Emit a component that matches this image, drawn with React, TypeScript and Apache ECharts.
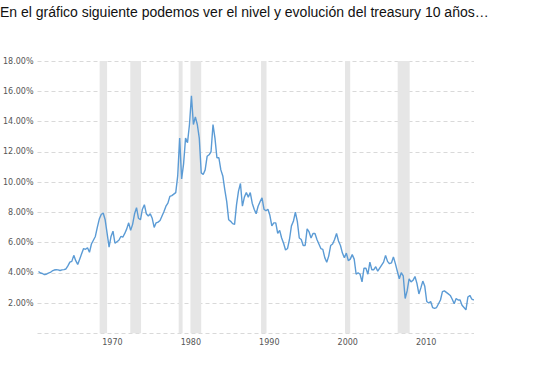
import React, { useEffect, useRef } from "react";
import * as echarts from "echarts";

const titleText =
  "En el gráfico siguiente podemos ver el nivel y evolución del treasury 10 años…";

const xTickYears = [1970, 1980, 1990, 2000, 2010];

const yieldYears = [
  1962, 1963, 1964, 1965, 1966, 1967, 1968, 1969, 1970, 1971, 1972, 1973, 1974, 1975,
  1976, 1977, 1978, 1979, 1980, 1981, 1982, 1983, 1984, 1985, 1986, 1987, 1988, 1989,
  1990, 1991, 1992, 1993, 1994, 1995, 1996, 1997, 1998, 1999, 2000, 2001, 2002, 2003,
  2004, 2005, 2006, 2007, 2008, 2009, 2010, 2011, 2012, 2013, 2014, 2015, 2016, 2017,
];

// quarterly 10-year treasury yields (%)
const quarterlyYields: number[][] = [
  [4.08, 3.98, 3.95, 3.88],
  [3.9, 3.98, 4.02, 4.12],
  [4.18, 4.2, 4.19, 4.15],
  [4.19, 4.21, 4.25, 4.45],
  [4.7, 4.75, 5.15, 4.8],
  [4.55, 4.9, 5.25, 5.6],
  [5.55, 5.65, 5.35, 5.9],
  [6.15, 6.4, 7.0, 7.55],
  [7.85, 7.95, 7.5, 6.6],
  [5.7, 6.4, 6.75, 5.95],
  [6.05, 6.15, 6.4, 6.35],
  [6.6, 6.9, 7.3, 6.8],
  [7.2, 7.9, 8.3, 7.6],
  [7.5, 8.2, 8.5, 7.9],
  [7.75, 7.9, 7.6, 7.0],
  [7.3, 7.35, 7.45, 7.75],
  [8.05, 8.4, 8.6, 9.05],
  [9.1, 9.2, 9.3, 10.4],
  [12.9, 10.2, 11.2, 12.9],
  [12.6, 13.8, 15.7, 13.8],
  [14.3, 13.8, 12.9, 10.6],
  [10.5, 10.8, 11.7, 11.8],
  [12.0, 13.8, 12.9, 11.6],
  [11.6, 10.8, 10.4, 9.5],
  [8.7, 7.5, 7.4, 7.25],
  [7.2, 8.5, 9.4, 9.9],
  [8.4, 9.0, 9.3, 9.0],
  [9.3, 8.6, 8.2, 7.9],
  [8.4, 8.7, 8.95, 8.2],
  [8.1, 8.2, 7.8, 7.1],
  [7.3, 7.3, 6.6, 6.8],
  [6.3, 5.95, 5.5, 5.6],
  [6.2, 7.1, 7.4, 8.0],
  [7.4, 6.3, 6.2, 5.8],
  [5.8, 6.9, 6.7, 6.3],
  [6.6, 6.6, 6.2, 5.9],
  [5.6, 5.55, 5.0, 4.7],
  [5.1, 5.8, 5.9, 6.2],
  [6.6, 6.1, 5.8, 5.3],
  [5.0, 5.3, 4.8, 4.9],
  [5.2, 4.9, 3.9, 4.0],
  [3.9, 3.4, 4.3, 4.3],
  [3.9, 4.7, 4.2, 4.2],
  [4.4, 4.1, 4.3, 4.5],
  [4.7, 5.15, 4.75, 4.6],
  [4.65, 5.05, 4.6, 4.1],
  [3.6, 4.0, 3.8, 2.3],
  [2.8, 3.6, 3.4, 3.5],
  [3.75, 3.3, 2.6, 3.0],
  [3.45, 3.1, 2.1, 2.0],
  [2.1, 1.7, 1.65, 1.7],
  [1.95, 2.2, 2.75, 2.8],
  [2.7, 2.6, 2.5, 2.25],
  [1.95, 2.3, 2.2, 2.2],
  [1.85, 1.7, 1.55, 2.4],
  [2.5, 2.25, 2.2],
];

// US recessions (start, end) in fractional years
const recessions: [number, number][] = [
  [1969.92, 1970.87],
  [1973.83, 1975.2],
  [1980.0, 1980.5],
  [1981.5, 1982.87],
  [1990.5, 1991.2],
  [2001.2, 2001.87],
  [2007.92, 2009.45],
];

export default function App() {
  const ref = useRef<HTMLDivElement>(null);

  useEffect(() => {
    if (!ref.current) return;
    const chart = echarts.init(ref.current, null, { renderer: "svg" });

    const data: [number, number][] = [];
    yieldYears.forEach((yr, i) => {
      quarterlyYields[i].forEach((v, q) => {
        data.push([yr + q * 0.25 + 0.125, v]);
      });
    });

    const labelStyle = {
      fontFamily: "DejaVu Sans",
      fontSize: 8,
      color: "#555",
    };

    chart.setOption({
      animation: false,
      grid: { left: 36, right: 61, top: 61, bottom: 51.75 },
      xAxis: {
        type: "value",
        min: 1962,
        max: 2017.65,
        axisLine: { show: false },
        axisTick: { show: false },
        splitLine: { show: false },
        axisLabel: {
          ...labelStyle,
          customValues: xTickYears,
          align: "left",
          padding: [0, 0, 0, 2],
          margin: 5,
          formatter: (v: number) => String(Math.round(v)),
        },
      },
      yAxis: {
        type: "value",
        min: 0,
        max: 18,
        interval: 2,
        axisLine: { show: false },
        axisTick: { show: false },
        splitLine: {
          show: true,
          lineStyle: { type: [4, 3], color: "#d9d9d9", width: 1 },
        },
        axisLabel: {
          ...labelStyle,
          margin: 4,
          formatter: (v: number) => (v === 0 ? "" : v.toFixed(2) + "%"),
        },
      },
      series: [
        {
          type: "line",
          data,
          showSymbol: false,
          symbol: "none",
          lineStyle: { color: "#5b9bd5", width: 1.4 },
          markArea: {
            silent: true,
            itemStyle: { color: "#e6e6e6" },
            data: recessions.map(([a, b]) => [
              { xAxis: a, yAxis: 0 },
              { xAxis: b, yAxis: 18 },
            ]),
          },
          z: 3,
        },
      ],
      graphic: [
        {
          type: "text",
          x: 0,
          y: 12,
          style: {
            text: titleText,
            fontFamily: "Liberation Sans",
            fontSize: 14,
            fill: "#111",
            verticalAlign: "middle",
          },
        },
      ],
    });

    return () => chart.dispose();
  }, []);

  return (
    <div
      ref={ref}
      style={{ position: "absolute", left: 0, top: 0, width: 535, height: 385 }}
    />
  );
}
